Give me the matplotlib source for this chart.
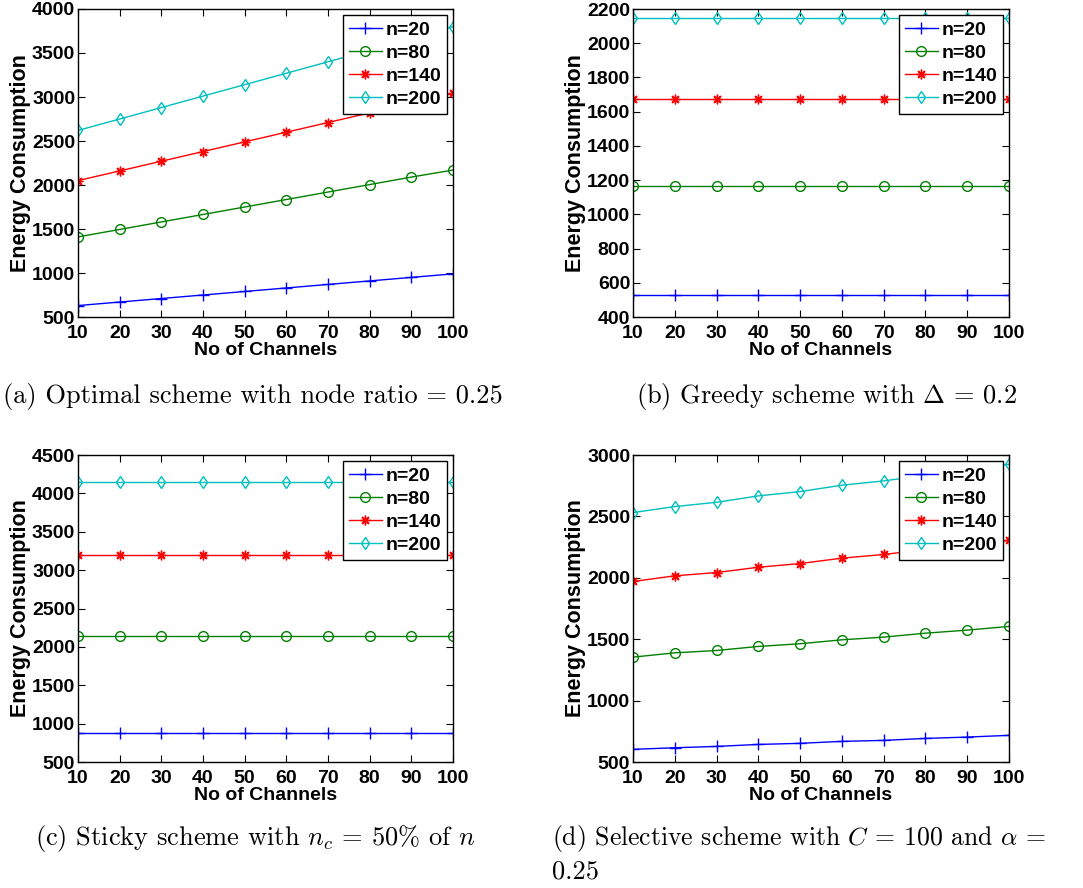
import matplotlib.pyplot as plt

plt.rcParams['font.family'] = ['Liberation Sans', 'DejaVu Sans']
plt.rcParams['mathtext.fontset'] = 'cm'

channels = [10, 20, 30, 40, 50, 60, 70, 80, 90, 100]
labels = ["n=20", "n=80", "n=140", "n=200"]

# (a) optimal scheme
optimal_n20 = [630, 670, 710, 750, 790, 830, 870, 910, 950, 990]
optimal_n80 = [1410, 1495, 1580, 1665, 1750, 1835, 1920, 2005, 2090, 2170]
optimal_n140 = [2050, 2160, 2270, 2380, 2490, 2600, 2710, 2820, 2930, 3040]
optimal_n200 = [2620, 2750, 2880, 3010, 3140, 3270, 3400, 3530, 3660, 3800]

# (b) greedy scheme
greedy_n20 = [530] * 10
greedy_n80 = [1165] * 10
greedy_n140 = [1675] * 10
greedy_n200 = [2145] * 10

# (c) sticky scheme
sticky_n20 = [875] * 10
sticky_n80 = [2145] * 10
sticky_n140 = [3195] * 10
sticky_n200 = [4150] * 10

# (d) selective scheme
selective_n20 = [603, 616, 627, 643, 652, 668, 676, 692, 703, 717]
selective_n80 = [1354, 1389, 1408, 1441, 1463, 1495, 1517, 1549, 1574, 1604]
selective_n140 = [1970, 2016, 2043, 2086, 2116, 2160, 2190, 2230, 2265, 2304]
selective_n200 = [2531, 2580, 2615, 2667, 2702, 2754, 2789, 2835, 2875, 2924]

styles = [
    dict(color=(0, 0, 1), marker='+', markersize=8),
    dict(color=(0, 0.5, 0), marker='o', markersize=7, markerfacecolor='none'),
    dict(color=(1, 0, 0), marker=(8, 2, 0), markersize=7),
    dict(color=(0, 0.75, 0.75), marker='d', markersize=6, markerfacecolor='none'),
]

panels = [
    ([optimal_n20, optimal_n80, optimal_n140, optimal_n200], (500, 4000), range(500, 4001, 500)),
    ([greedy_n20, greedy_n80, greedy_n140, greedy_n200], (400, 2200), range(400, 2201, 200)),
    ([sticky_n20, sticky_n80, sticky_n140, sticky_n200], (500, 4500), range(500, 4501, 500)),
    ([selective_n20, selective_n80, selective_n140, selective_n200], (500, 3000), range(500, 3001, 500)),
]

W, H = 1083, 888
fig = plt.figure(figsize=(W / 100, H / 100), dpi=100)

# axes boxes in pixels: left, top, right, bottom
boxes = [(78, 9, 453, 317), (633, 9, 1009, 317), (78, 455, 453, 762), (633, 455, 1009, 762)]

for (series, ylim, yticks), (l, t, r, b) in zip(panels, boxes):
    ax = fig.add_axes([l / W, (H - b) / H, (r - l) / W, (b - t) / H])
    for vals, lab, st in zip(series, labels, styles):
        ax.plot(channels, vals, linewidth=1, label=lab, **st)
    ax.set_xlim(10, 100)
    ax.set_ylim(*ylim)
    ax.set_xticks(channels)
    ax.set_yticks(list(yticks))
    ax.tick_params(direction='in', top=True, right=True, labelsize=14, length=5)
    ax.tick_params(axis='x', pad=6)
    ax.tick_params(axis='y', pad=2)
    for lbl in ax.get_xticklabels() + ax.get_yticklabels():
        lbl.set_fontweight('bold')
    ax.set_xlabel("No of Channels", fontsize=14, fontweight='bold', labelpad=0)
    ax.set_ylabel("Energy Consumption", fontsize=15.5, fontweight='bold', labelpad=1)
    for sp in ax.spines.values():
        sp.set_linewidth(1)
    leg = ax.legend(loc='upper right', bbox_to_anchor=(0.985, 0.98), fancybox=False,
                    edgecolor='black', framealpha=1, handlelength=1.7, borderpad=0.3,
                    labelspacing=0.28, handletextpad=0.2, borderaxespad=0,
                    prop=dict(size=14, weight='bold'))
    leg.get_frame().set_linewidth(1)

cap = dict(fontfamily='cmr10', fontsize=19, va='center', ha='left')
fig.text(3 / W, 1 - 396 / H, r"(a) Optimal scheme with node ratio = 0.25", **cap)
fig.text(636 / W, 1 - 396 / H, r"(b) Greedy scheme with $\Delta$ = 0.2", **cap)
fig.text(35 / W, 1 - 838 / H, r"(c) Sticky scheme with $n_c$ = 50% of $n$", **cap)
fig.text(552 / W, 1 - 838 / H, r"(d) Selective scheme with $C$ = 100 and $\alpha$ =",
         fontfamily='cmr10', fontsize=18.5, va='center', ha='left')
fig.text(552 / W, 1 - 872 / H, r"0.25", **cap)

fig.savefig("out.png", dpi=100)
